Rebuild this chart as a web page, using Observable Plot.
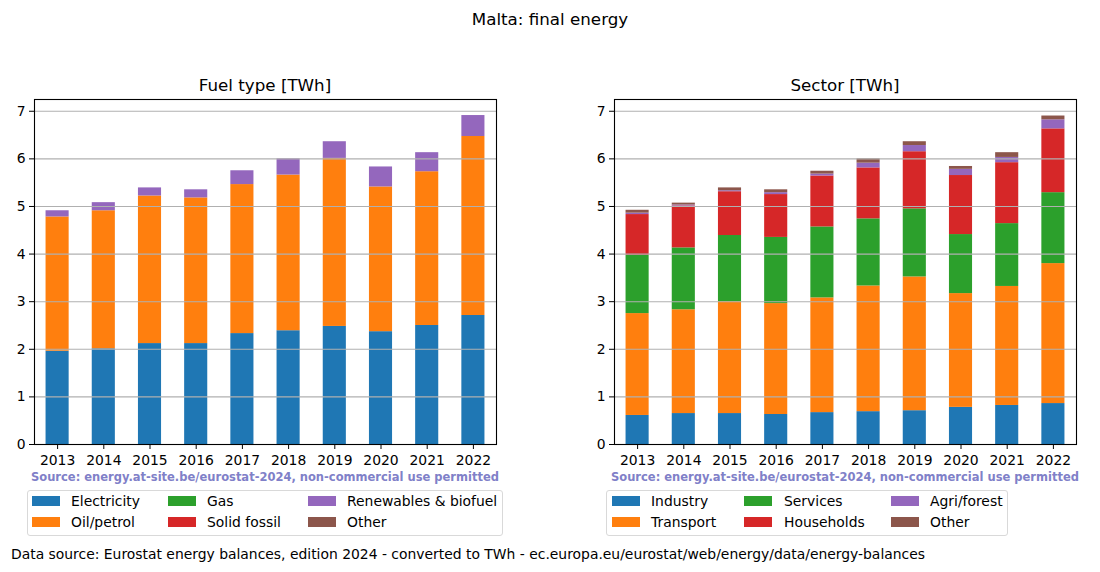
<!DOCTYPE html>
<html>
<head>
<meta charset="utf-8">
<script src="https://cdn.jsdelivr.net/npm/d3@7"></script>
<script src="https://cdn.jsdelivr.net/npm/@observablehq/plot@0.6"></script>
<style>
  html, body { margin: 0; padding: 0; background: #fff; }
  #root { position: relative; width: 1100px; height: 572px; font-family: "DejaVu Sans", sans-serif; color: #000; overflow: hidden; }
  .abs { position: absolute; white-space: nowrap; }
  .title { font-size: 16.7px; line-height: 20px; text-align: center; }
  .src { font-size: 11.5px; font-weight: bold; color: #8080c8; line-height: 14px; }
  .legend { border: 1px solid #d9d9d9; border-radius: 3px; box-sizing: border-box; background: #fff; }
  .sw { position: absolute; width: 28px; height: 10px; }
  .lt { position: absolute; font-size: 13.9px; line-height: 16px; }
  .cap { font-size: 13.9px; line-height: 16px; }
</style>
</head>
<body>
<div id="root"></div>
<script>
const years = ["2013","2014","2015","2016","2017","2018","2019","2020","2021","2022"];

// Fuel type [TWh]
const fuelSeries = ["Electricity","Oil/petrol","Gas","Solid fossil","Renewables & biofuel","Other"];
const fuelElectricity = [1.96, 2.01, 2.12, 2.12, 2.33, 2.39, 2.48, 2.37, 2.50, 2.71];
const fuelOil         = [2.82, 2.90, 3.10, 3.06, 3.13, 3.27, 3.53, 3.04, 3.23, 3.76];
const fuelGas         = [0, 0, 0, 0, 0, 0, 0, 0, 0, 0];
const fuelSolid       = [0, 0, 0, 0, 0, 0, 0, 0, 0, 0];
const fuelRenewables  = [0.13, 0.17, 0.17, 0.17, 0.29, 0.34, 0.35, 0.42, 0.40, 0.44];
const fuelOther       = [0, 0, 0, 0, 0, 0, 0, 0, 0, 0];

// Sector [TWh]
const sectorSeries = ["Industry","Transport","Services","Households","Agri/forest","Other"];
const secIndustry   = [0.61, 0.65, 0.65, 0.63, 0.67, 0.69, 0.71, 0.78, 0.82, 0.86];
const secTransport  = [2.14, 2.18, 2.35, 2.33, 2.41, 2.64, 2.81, 2.39, 2.50, 2.94];
const secServices   = [1.22, 1.30, 1.39, 1.39, 1.49, 1.41, 1.43, 1.24, 1.32, 1.49];
const secHouseholds = [0.86, 0.88, 0.92, 0.90, 1.07, 1.07, 1.20, 1.24, 1.28, 1.34];
const secAgri       = [0.03, 0.02, 0.02, 0.04, 0.04, 0.10, 0.13, 0.13, 0.11, 0.19];
const secOther      = [0.06, 0.04, 0.06, 0.06, 0.06, 0.09, 0.08, 0.06, 0.10, 0.08];

const yTicks = [0, 1, 2, 3, 4, 5, 6, 7];
const colors = ["#1f77b4","#ff7f0e","#2ca02c","#d62728","#9467bd","#8c564b"];

function longData(series, arrays) {
  const out = [];
  series.forEach((s, k) => arrays[k].forEach((v, i) => out.push({year: years[i], series: s, value: v})));
  return out;
}
const fuelData = longData(fuelSeries, [fuelElectricity, fuelOil, fuelGas, fuelSolid, fuelRenewables, fuelOther]);
const sectorData = longData(sectorSeries, [secIndustry, secTransport, secServices, secHouseholds, secAgri, secOther]);

function chart(data, series, marginLeft, marginRight) {
  return Plot.plot({
    width: 550, height: 400,
    marginLeft, marginRight, marginTop: 19, marginBottom: 36,
    style: {fontFamily: "DejaVu Sans, sans-serif", fontSize: "13.9px", color: "#000", background: "transparent", overflow: "visible"},
    x: {domain: years, type: "band", paddingInner: 0.5, paddingOuter: 0.25, round: false, label: null},
    y: {domain: [0, 7.247], label: null},
    color: {domain: series, range: colors},
    marks: [
      Plot.barY(data, {x: "year", y: "value", fill: "series", order: series, insetLeft: 0, insetRight: 0}),
      Plot.ruleY(yTicks, {stroke: "#b0b0b0", strokeWidth: 1.1}),
      Plot.axisY({ticks: yTicks, tickSize: 5, tickPadding: 4, label: null, tickFormat: d => String(d)}),
      Plot.axisX({tickSize: 5, tickPadding: 6, label: null}),
      Plot.frame({stroke: "#000", strokeWidth: 1.1})
    ]
  });
}

const root = document.getElementById("root");
function add(html, cls, style) {
  const d = document.createElement("div");
  d.className = "abs " + (cls || "");
  Object.assign(d.style, style);
  d.innerHTML = html;
  root.appendChild(d);
  return d;
}

// Suptitle
add("Malta: final energy", "title", {left: "0px", width: "1100px", top: "9px"});

// Left chart
const c1 = chart(fuelData, fuelSeries, 34, 54);
const w1 = add("", "", {left: "0px", top: "80px"});
w1.appendChild(c1);
add("Fuel type [TWh]", "title", {left: "34px", width: "462px", top: "75px"});
add("Source: energy.at-site.be/eurostat-2024, non-commercial use permitted", "src", {left: "31px", top: "470px"});

// Right chart
const c2 = chart(sectorData, sectorSeries, 64, 24);
const w2 = add("", "", {left: "550px", top: "80px"});
w2.appendChild(c2);
add("Sector [TWh]", "title", {left: "614px", width: "462px", top: "75px"});
add("Source: energy.at-site.be/eurostat-2024, non-commercial use permitted", "src", {left: "611px", top: "470px"});

function legend(series, left, width, colX, textX) {
  const box = add("", "legend", {left: left + "px", top: "490px", width: width + "px", height: "46px"});
  series.forEach((s, k) => {
    const col = Math.floor(k / 2), row = k % 2;
    const sw = document.createElement("div");
    sw.className = "sw";
    Object.assign(sw.style, {left: (colX[col] - left - 1) + "px", top: (5 + row * 21) + "px", background: colors[k]});
    box.appendChild(sw);
    const t = document.createElement("div");
    t.className = "lt";
    Object.assign(t.style, {left: (textX[col] - left - 1) + "px", top: (2 + row * 21) + "px"});
    t.textContent = s;
    box.appendChild(t);
  });
}
legend(fuelSeries, 27, 476, [32, 168, 308], [71, 207, 347]);
legend(sectorSeries, 606, 402, [612, 744, 891], [651, 784, 930]);

add("Data source: Eurostat energy balances, edition 2024 - converted to TWh - ec.europa.eu/eurostat/web/energy/data/energy-balances", "cap", {left: "11px", top: "546px"});
</script>
</body>
</html>
